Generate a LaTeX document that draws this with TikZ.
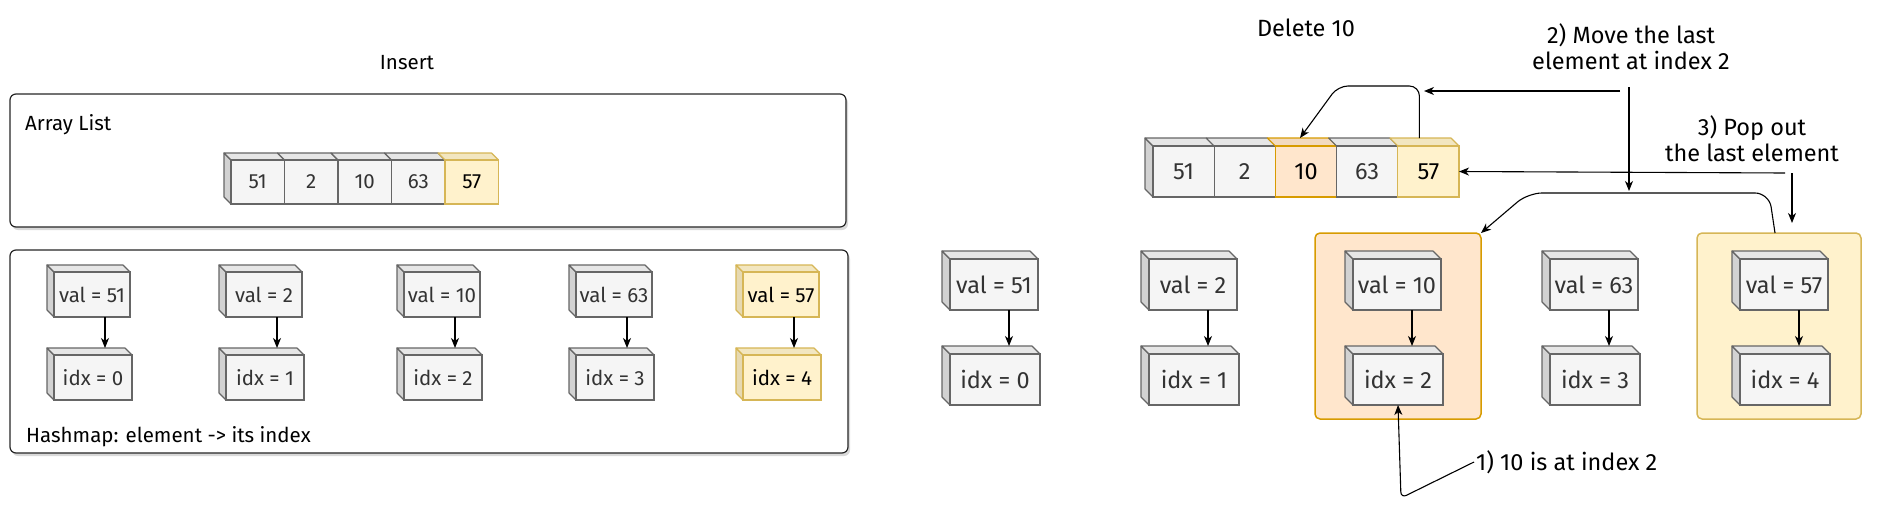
\documentclass[tikz,border=0pt]{standalone}
\usepackage{fontspec}
\setmainfont{Fira Sans}
\usetikzlibrary{arrows.meta,calc}
\definecolor{gfill}{HTML}{F5F5F5}
\definecolor{gline}{HTML}{666666}
\definecolor{gtop}{HTML}{E6E6E6}
\definecolor{gside}{HTML}{D2D2D2}
\definecolor{gtext}{HTML}{333333}
\definecolor{yfill}{HTML}{FFF2CC}
\definecolor{yline}{HTML}{D6B656}
\definecolor{ytop}{HTML}{F2E6C0}
\definecolor{yside}{HTML}{E6D9B2}
\definecolor{ytext}{HTML}{000000}
\definecolor{ofill}{HTML}{FFE6CC}
\definecolor{oline}{HTML}{D79B00}
\definecolor{otop}{HTML}{F2DAC0}
\definecolor{oside}{HTML}{E6CEB4}
\definecolor{otext}{HTML}{000000}
\tikzset{
  arr/.style={draw=black, line width=1.1pt, -{Stealth[length=10pt,width=8pt,inset=3pt]}},
  cubeface/.style={line width=1.1pt, inner sep=0pt, outer sep=0pt},
  cubeedge/.style={line width=1.1pt, line join=round},
  frame/.style={draw=black!85, line width=1.2pt, rounded corners=6pt, fill=white, inner sep=0pt, outer sep=0pt},
  shade/.style={fill=black, opacity=0.15, rounded corners=6pt, inner sep=0pt, outer sep=0pt},
  grp/.style={line width=1.5pt, rounded corners=5pt, inner sep=0pt, outer sep=0pt},
  lbl/.style={align=center, inner sep=2pt, text=black},
  fl/.style={font=\fontsize{20.5}{25}\selectfont},
  fr/.style={font=\fontsize{23.5}{26}\selectfont},
}
\newcommand\mkcube[9]{%
  \filldraw[cubeedge, draw=#7line, fill=#7top] (#2,#3) -- ++(-#6,-#6) -- ++(#4,0) -- ++(#6,#6) -- cycle;
  \node[cubeface, draw=#7line, fill=#7fill, text=#7text, minimum width=#4pt, minimum height=#5pt, anchor=north west, #8] (#1) at (#2,#3) {#9};
}
\newcommand\mkside[5]{%
  \filldraw[cubeedge, draw=#5line, fill=#5side] (#1,#2) -- ++(-#4,-#4) -- ++(0,#3) -- ++(#4,#4) -- cycle;
}
\newcommand\mkboth[9]{\mkside{#2}{#3}{#5}{#6}{#7}\mkcube{#1}{#2}{#3}{#4}{#5}{#6}{#7}{#8}{#9}}
\newcommand\vtoi[4]{\draw[arr] let \p1=([xshift=#3]#1.south), \p2=(#2.north) in (\p1) -- (\x1,\y2+#4);}
\begin{document}
\begin{tikzpicture}[x=1pt,y=-1pt]
\useasboundingbox (0,0) rectangle (1885,514);
% ---------------- left: Insert ----------------
\node[lbl, fl] (tins) at (407,63) {Insert};
\node[shade, minimum width=836pt, minimum height=133pt, anchor=north west] (alsh) at (12,97) {};
\node[frame, minimum width=836pt, minimum height=133pt, anchor=north west] (alist) at (10,94) {};
\node[lbl, fl, anchor=west] (tal) at (23,125) {Array List};
\mkside{231}{160}{44}{7}{g}
\mkcube{la1}{231}{160}{53.5}{44}{7}{g}{fl}{51}
\mkcube{la2}{284.5}{160}{53.5}{44}{7}{g}{fl}{2}
\mkcube{la3}{338}{160}{53.5}{44}{7}{g}{fl}{10}
\mkcube{la4}{391.5}{160}{53.5}{44}{7}{g}{fl}{63}
\mkcube{la5}{445}{160}{53.5}{44}{7}{y}{fl}{57}
\node[shade, minimum width=838pt, minimum height=203pt, anchor=north west] (hmsh) at (12,253) {};
\node[frame, minimum width=838pt, minimum height=203pt, anchor=north west] (hmap) at (10,250) {};
\node[lbl, fl, anchor=west] (thm) at (24,437) {Hashmap: element -> its index};
\mkboth{lv1}{54}{272}{76}{45}{7}{g}{fl}{val = 51}
\mkboth{lv2}{226}{272}{76}{45}{7}{g}{fl}{val = 2}
\mkboth{lv3}{404}{272}{76}{45}{7}{g}{fl}{val = 10}
\mkboth{lv4}{576}{272}{76}{45}{7}{g}{fl}{val = 63}
\mkboth{lv5}{743}{272}{76}{45}{7}{y}{fl}{val = 57}
\mkboth{li1}{54}{355}{78}{45}{7}{g}{fl}{idx = 0}
\mkboth{li2}{226}{355}{78}{45}{7}{g}{fl}{idx = 1}
\mkboth{li3}{404}{355}{78}{45}{7}{g}{fl}{idx = 2}
\mkboth{li4}{576}{355}{78}{45}{7}{g}{fl}{idx = 3}
\mkboth{li5}{743}{355}{78}{45}{7}{y}{fl}{idx = 4}
\vtoi{lv1}{li1}{13pt}{7pt}
\vtoi{lv2}{li2}{13pt}{7pt}
\vtoi{lv3}{li3}{13pt}{7pt}
\vtoi{lv4}{li4}{13pt}{7pt}
\vtoi{lv5}{li5}{13pt}{7pt}
% ---------------- right: Delete ----------------
\node[lbl, fr] (tdel) at (1306,28) {Delete 10};
\node[lbl, fr] (tmove) at (1631,47) {2) Move the last\\element at index 2};
\node[lbl, fr] (tpop) at (1752,139) {3) Pop out\\the last element};
\node[lbl, fr, anchor=west] (tone) at (1474,462) {1) 10 is at index 2};
\mkside{1153}{146}{51}{8}{g}
\mkcube{ra1}{1153}{146}{61.2}{51}{8}{g}{fr}{51}
\mkcube{ra2}{1214.2}{146}{61.2}{51}{8}{g}{fr}{2}
\mkcube{ra3}{1275.4}{146}{61.2}{51}{8}{o}{fr}{10}
\mkcube{ra4}{1336.6}{146}{61.2}{51}{8}{g}{fr}{63}
\mkcube{ra5}{1397.8}{146}{61.2}{51}{8}{y}{fr}{57}
\node[grp, draw=oline, fill=ofill, minimum width=166pt, minimum height=186pt, anchor=north west] (obox) at (1315,233) {};
\node[grp, draw=yline, fill=yfill, minimum width=164pt, minimum height=186pt, anchor=north west] (ybox) at (1697,233) {};
\mkboth{rv1}{950}{259}{88}{51}{8}{g}{fr}{val = 51}
\mkboth{rv2}{1149}{259}{88}{51}{8}{g}{fr}{val = 2}
\mkboth{rv3}{1353}{259}{88}{51}{8}{g}{fr}{val = 10}
\mkboth{rv4}{1550}{259}{88}{51}{8}{g}{fr}{val = 63}
\mkboth{rv5}{1740}{259}{88}{51}{8}{g}{fr}{val = 57}
\mkboth{ri1}{950}{354}{90}{51}{8}{g}{fr}{idx = 0}
\mkboth{ri2}{1149}{354}{90}{51}{8}{g}{fr}{idx = 1}
\mkboth{ri3}{1353}{354}{90}{51}{8}{g}{fr}{idx = 2}
\mkboth{ri4}{1550}{354}{90}{51}{8}{g}{fr}{idx = 3}
\mkboth{ri5}{1740}{354}{90}{51}{8}{g}{fr}{idx = 4}
\vtoi{rv1}{ri1}{15pt}{8pt}
\vtoi{rv2}{ri2}{15pt}{8pt}
\vtoi{rv3}{ri3}{15pt}{8pt}
\vtoi{rv4}{ri4}{15pt}{8pt}
\vtoi{rv5}{ri5}{15pt}{8pt}
% connectors
\coordinate (c1) at (1338,86);
\draw[arr, rounded corners=10pt] ([xshift=-9pt,yshift=8pt]ra5.north) |- (c1) -- ([xshift=-6pt,yshift=8pt]ra3.north);
\coordinate (mvs) at (1620,91);
\coordinate (mvt) at (1424,91);
\draw[arr] (mvs) -- (mvt);
\coordinate (mds) at (1629,87);
\coordinate (mdt) at (1629,191);
\draw[arr] (mds) -- (mdt);
\coordinate (pps) at (1785,173);
\draw[arr] (pps) -- (ra5.east);
\coordinate (pds) at (1792,173);
\coordinate (pdt) at (1792,223);
\draw[arr] (pds) -- (pdt);
\coordinate (c2) at (1769,193);
\coordinate (c3) at (1528,193);
\draw[arr, rounded corners=14pt] ([xshift=-4pt]ybox.north) -- (c2) -- (c3) -- (obox.north east);
\coordinate (c4) at (1401,498);
\draw[arr, rounded corners=6pt] (tone.west) -- (c4) -- (ri3.south);
\end{tikzpicture}
\end{document}
